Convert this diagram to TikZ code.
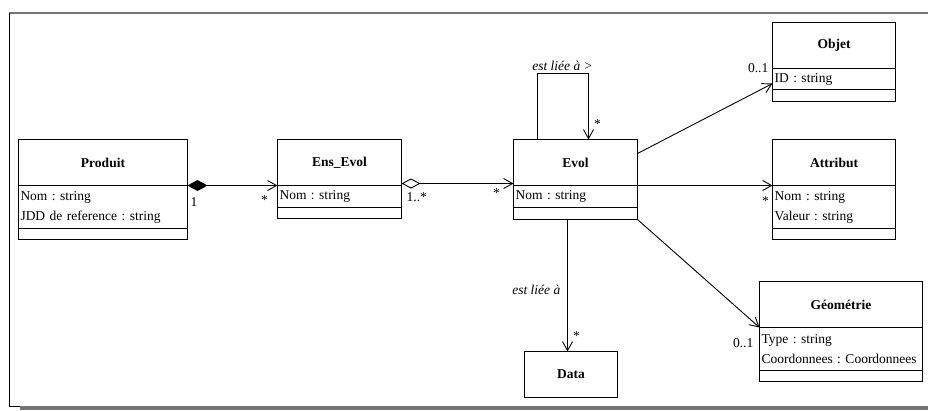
\documentclass[tikz,border=0pt]{standalone}
\usepackage{fontspec}
\setmainfont{Liberation Serif}
\usetikzlibrary{arrows.meta}
\begin{document}
\frenchspacing
\begin{tikzpicture}[x=1pt,y=-1pt, font=\fontsize{13.5}{20}\selectfont,
 hdr/.style={draw, line width=1pt, font=\fontsize{13.5}{20}\selectfont\bfseries, minimum height=46pt, anchor=north west, inner sep=0pt, outer sep=0pt},
 cmp/.style={draw, line width=1pt, anchor=north west, align=left, inner xsep=2pt, inner ysep=0pt, outer sep=0pt},
 ops/.style={draw, line width=1pt, anchor=north west, inner sep=0pt, outer sep=0pt, minimum height=11pt},
 lnk/.style={line width=0.9pt},
 nav/.style={lnk, -{Straight Barb[length=9pt,width=10pt]}},
 mult/.style={inner sep=0pt, anchor=base},
 role/.style={inner sep=0pt, anchor=base, font=\fontsize{13.5}{20}\selectfont\itshape},
]
\useasboundingbox (0,0) rectangle (928,410);
% frame
\draw[line width=2pt, black!55] (9,13) -- (928,13);
\draw[line width=1pt] (9.5,13) -- (9.5,406);
\draw[line width=1pt] (9,406) -- (20,406);
\fill[black!55] (20,406) rectangle (928,410);

\begin{scope}[shift={(0.5,0.5)}]
% Produit
\node[hdr, minimum width=169pt] (produitH) at (18,139) {Produit};
\node[cmp, text width=165pt, minimum height=43pt] (produitA) at (produitH.south west) {Nom : string\\JDD de reference : string};
\node[ops, minimum width=169pt] (produitO) at (produitA.south west) {};
% Ens_Evol
\node[hdr, minimum width=124pt] (ensH) at (277,139) {Ens\_Evol};
\node[cmp, text width=120pt, minimum height=22pt] (ensA) at (ensH.south west) {Nom : string};
\node[ops, minimum width=124pt] (ensO) at (ensA.south west) {};
% Evol
\node[hdr, minimum width=124pt] (evolH) at (513,139) {Evol};
\node[cmp, text width=120pt, minimum height=22pt] (evolA) at (evolH.south west) {Nom : string};
\node[ops, minimum width=124pt, minimum height=12pt] (evolO) at (evolA.south west) {};
% Objet
\node[hdr, minimum width=123pt] (objetH) at (772,22) {Objet};
\node[cmp, text width=119pt, minimum height=21pt] (objetA) at (objetH.south west) {ID : string};
\node[ops, minimum width=123pt, minimum height=12pt] (objetO) at (objetA.south west) {};
% Attribut
\node[hdr, minimum width=123pt] (attrH) at (772,139) {Attribut};
\node[cmp, text width=119pt, minimum height=43pt] (attrA) at (attrH.south west) {Nom : string\\Valeur : string};
\node[ops, minimum width=123pt] (attrO) at (attrA.south west) {};
% Geometrie
\node[hdr, minimum width=163pt] (geoH) at (759,281) {Géométrie};
\node[cmp, text width=159pt, minimum height=43pt] (geoA) at (geoH.south west) {Type : string\\Coordonnees : Coordonnees};
\node[ops, minimum width=163pt] (geoO) at (geoA.south west) {};
% Data
\node[hdr, minimum width=93pt] (data) at (524,351) {Data};

% connectors
\draw[lnk, {Diamond[length=20pt,width=11pt]}-{Straight Barb[length=9pt,width=10pt]}] (produitH.south east) -- (ensH.south west);
\draw[lnk, {Diamond[open,length=19pt,width=10pt]}-{Straight Barb[length=9pt,width=10pt]}] ([yshift=2pt]ensH.south east) -- ([yshift=2pt]evolH.south west);
\draw[nav] ([xshift=-38pt]evolH.north) -- ++(0,-66) -| ([xshift=13pt]evolH.north);
\draw[nav] ([yshift=9pt]evolH.east) -- ([yshift=-4.5pt]objetA.west);
\draw[nav] (evolH.south east) -- (attrH.south west);
\draw[nav] (evolO.south east) -- (geoH.south west);
\draw[nav] ([xshift=-8pt]evolO.south) -- ([xshift=-8pt]evolO.south |- data.north);

% labels
\node[mult, anchor=base west] (m1) at (190,206) {1};
\node[mult] (m2) at (264,204) {*};
\node[mult, anchor=base west] (m3) at (406,201) {1..*};
\node[mult] (m4) at (496,197) {*};
\node[mult] (m5) at (597,128) {*};
\node[mult, anchor=base east] (m6) at (768,72) {0..1};
\node[mult] (m7) at (765,205) {*};
\node[mult] (m8) at (576,340) {*};
\node[mult, anchor=base east] (m9) at (753,347) {0..1};
\node[role] (r1) at (562,70) {est liée à >};
\node[role, anchor=base east] (r2) at (560,294) {est liée à};
\end{scope}
\end{tikzpicture}
\end{document}
